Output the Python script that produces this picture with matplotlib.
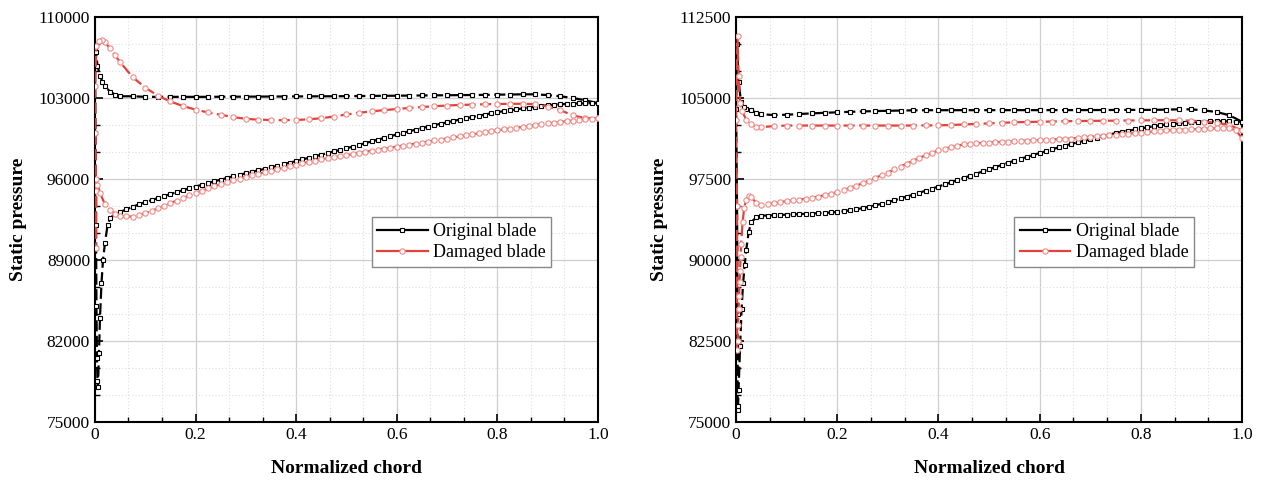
import numpy as np
import matplotlib
matplotlib.use('Agg')
import matplotlib.pyplot as plt
from matplotlib.ticker import FixedLocator, FuncFormatter
from matplotlib.lines import Line2D

plt.rcParams['font.family'] = ['Liberation Serif', 'DejaVu Serif']

# chord stations (x/c) of the upper branches
up_x = [0.075, 0.1, 0.125, 0.15, 0.175, 0.2, 0.225, 0.25, 0.275, 0.3, 0.325, 0.35,
        0.375, 0.4, 0.425, 0.45, 0.475, 0.5, 0.525, 0.55, 0.575, 0.6, 0.625, 0.65,
        0.675, 0.7, 0.725, 0.75, 0.775, 0.8, 0.825, 0.85, 0.875, 0.9, 0.925, 0.95,
        0.975, 1.0]
# lower branches are sampled twice as densely
lo_x = [0.0625, 0.075, 0.0875, 0.1, 0.1125, 0.125, 0.1375, 0.15, 0.1625, 0.175, 0.1875, 0.2,
        0.2125, 0.225, 0.2375, 0.25, 0.2625, 0.275, 0.2875, 0.3, 0.3125, 0.325, 0.3375, 0.35,
        0.3625, 0.375, 0.3875, 0.4, 0.4125, 0.425, 0.4375, 0.45, 0.4625, 0.475, 0.4875, 0.5,
        0.5125, 0.525, 0.5375, 0.55, 0.5625, 0.575, 0.5875, 0.6, 0.6125, 0.625, 0.6375, 0.65,
        0.6625, 0.675, 0.6875, 0.7, 0.7125, 0.725, 0.7375, 0.75, 0.7625, 0.775, 0.7875, 0.8,
        0.8125, 0.825, 0.8375, 0.85, 0.8625, 0.875, 0.8875, 0.9, 0.9125, 0.925, 0.9375, 0.95,
        0.9625, 0.975, 0.9875, 1.0]

# ---------------- left case ----------------
l_orig_up_le_x = [0.0, 0.002, 0.005, 0.01, 0.015, 0.02, 0.03, 0.04, 0.05]
l_orig_up_le_y = [107300, 107000, 105800, 104900, 104400, 104000, 103550, 103300, 103150]
l_orig_up_y = [103150, 103100, 103100, 103100, 103100, 103100, 103100, 103110, 103110,
               103120, 103120, 103130, 103130, 103140, 103140, 103150, 103150, 103160,
               103170, 103180, 103190, 103200, 103210, 103220, 103230, 103240, 103250,
               103260, 103270, 103290, 103300, 103320, 103320, 103250, 103150, 103000,
               102800, 102550]
l_orig_lo_le_x = [0.001, 0.002, 0.003, 0.004, 0.005, 0.006, 0.008, 0.01, 0.013, 0.016,
                  0.02, 0.025, 0.03, 0.04, 0.05]
l_orig_lo_le_y = [100000, 92000, 85000, 80500, 78500, 78000, 81000, 84000, 87000, 89000,
                  90500, 92000, 92600, 93000, 93150]
l_orig_lo_y = [93380, 93600, 93800, 94000, 94180, 94350, 94530, 94700, 94860, 95030, 95190, 95350,
               95500, 95650, 95800, 95950, 96090, 96230, 96360, 96500, 96620, 96750, 96870, 97000,
               97140, 97280, 97410, 97550, 97690, 97830, 97960, 98100, 98240, 98380, 98510, 98650,
               98800, 98950, 99100, 99250, 99400, 99550, 99700, 99850, 99990, 100130, 100260, 100400,
               100530, 100650, 100780, 100900, 101010, 101130, 101240, 101350, 101460, 101570, 101680, 101780,
               101860, 101940, 102020, 102100, 102170, 102240, 102310, 102380, 102420, 102450, 102490, 102520,
               102530, 102540, 102545, 102550]

l_dam_up_le_x = [0.0, 0.003, 0.008, 0.015, 0.02, 0.03, 0.04, 0.05]
l_dam_up_le_y = [104000, 107500, 107900, 108000, 107800, 107300, 106700, 106100]
l_dam_up_y = [104800, 103900, 103200, 102700, 102300, 102000, 101750, 101550, 101350,
              101200, 101130, 101100, 101080, 101100, 101160, 101250, 101400, 101580,
              101720, 101850, 101950, 102050, 102140, 102220, 102290, 102350, 102400,
              102430, 102460, 102480, 102500, 102500, 102470, 102250, 101950, 101500,
              101250, 101250]
l_dam_lo_le_x = [0.001, 0.002, 0.002, 0.003, 0.005, 0.01, 0.02, 0.03, 0.04, 0.05]
l_dam_lo_le_y = [100000, 95000, 90000, 96000, 95500, 94800, 93800, 93300, 93000, 92800]
l_dam_lo_y = [92760, 92750, 92880, 93050, 93250, 93460, 93680, 93900, 94130, 94360, 94580, 94800,
              94990, 95180, 95370, 95550, 95720, 95880, 96040, 96200, 96330, 96450, 96580, 96700,
              96840, 96980, 97110, 97250, 97360, 97480, 97590, 97700, 97790, 97880, 97960, 98050,
              98150, 98250, 98350, 98450, 98540, 98630, 98710, 98800, 98890, 98980, 99060, 99150,
              99240, 99330, 99410, 99500, 99590, 99680, 99760, 99850, 99940, 100030, 100110, 100200,
              100280, 100350, 100430, 100500, 100580, 100650, 100730, 100800, 100860, 100930, 100990, 101050,
              101100, 101150, 101200, 101250]

# ---------------- right case ----------------
r_orig_up_le_x = [0.0, 0.002, 0.005, 0.01, 0.015, 0.02, 0.03, 0.04, 0.05]
r_orig_up_le_y = [104000, 110000, 106500, 104600, 104200, 104000, 103850, 103650, 103500]
r_orig_up_y = [103420, 103450, 103520, 103580, 103630, 103680, 103720, 103760, 103790,
               103820, 103840, 103860, 103870, 103880, 103880, 103880, 103880, 103880,
               103880, 103880, 103880, 103880, 103880, 103880, 103880, 103880, 103890,
               103890, 103900, 103900, 103900, 103920, 103950, 103950, 103850, 103700,
               103400, 102800]
r_orig_lo_le_x = [0.002, 0.003, 0.003, 0.004, 0.005, 0.008, 0.011, 0.014, 0.017, 0.02,
                  0.025, 0.03, 0.04, 0.05]
r_orig_lo_le_y = [95000, 85000, 76100, 76500, 78000, 82000, 85500, 87900, 89500, 90900,
                  92600, 93500, 93950, 94100]
r_orig_lo_y = [94120, 94150, 94170, 94200, 94220, 94250, 94270, 94300, 94330, 94360, 94400, 94450,
               94520, 94600, 94700, 94800, 94930, 95060, 95200, 95350, 95520, 95700, 95870, 96050,
               96240, 96420, 96610, 96800, 97000, 97200, 97400, 97600, 97800, 98000, 98200, 98400,
               98600, 98800, 99000, 99200, 99380, 99550, 99730, 99900, 100080, 100250, 100430, 100600,
               100750, 100900, 101050, 101200, 101340, 101480, 101610, 101750, 101860, 101980, 102090, 102200,
               102290, 102380, 102460, 102550, 102600, 102650, 102700, 102750, 102780, 102800, 102830, 102850,
               102850, 102840, 102820, 102800]

r_dam_up_le_x = [0.0, 0.003, 0.005, 0.008, 0.012, 0.02, 0.03, 0.04, 0.05]
r_dam_up_le_y = [103000, 110700, 107000, 104500, 103800, 103000, 102550, 102350, 102300]
r_dam_up_y = [102400, 102450, 102450, 102450, 102450, 102450, 102450, 102450, 102450,
              102450, 102450, 102450, 102460, 102470, 102500, 102550, 102600, 102650,
              102700, 102750, 102780, 102800, 102820, 102850, 102870, 102880, 102890,
              102900, 102910, 102920, 102940, 102950, 102930, 102900, 102820, 102700,
              102500, 102000]
r_dam_lo_le_x = [0.002, 0.002, 0.003, 0.004, 0.005, 0.006, 0.007, 0.008, 0.009, 0.01,
                 0.013, 0.016, 0.02, 0.025, 0.03, 0.04, 0.05]
r_dam_lo_le_y = [95000, 81700, 82500, 84000, 85500, 86700, 88000, 89000, 90300, 91500,
                 93500, 94800, 95600, 95900, 95800, 95300, 95100]
r_dam_lo_y = [95170, 95250, 95350, 95450, 95520, 95600, 95670, 95750, 95870, 96000, 96140, 96300,
              96490, 96680, 96890, 97100, 97350, 97600, 97850, 98100, 98380, 98650, 98930, 99200,
              99450, 99700, 99930, 100150, 100310, 100460, 100590, 100700, 100760, 100810, 100850, 100880,
              100910, 100940, 100970, 101000, 101020, 101050, 101070, 101100, 101120, 101150, 101170, 101200,
              101250, 101300, 101350, 101400, 101450, 101500, 101550, 101600, 101650, 101700, 101750, 101800,
              101850, 101900, 101950, 102000, 102030, 102050, 102080, 102100, 102130, 102150, 102180, 102200,
              102200, 102200, 102000, 101300]


def loop(up_le_x, up_le_y, up_y, lo_le_x, lo_le_y, lo_y):
    # trailing edge -> leading edge on the upper branch, then back on the lower one
    x = list(reversed(up_le_x + up_x)) + lo_le_x + lo_x
    y = list(reversed(up_le_y + up_y)) + lo_le_y + lo_y
    return x, y


black_style = dict(color='black', lw=1.6, ls=(0, (5, 2)), marker='s', ms=3.3,
                   mfc='white', mec='black', mew=0.8)
red_style = dict(color='#e5413b', lw=1.6, ls=(0, (5, 2)), marker='o', ms=3.8,
                 mfc='white', mec='#f08a86', mew=0.8)

fig = plt.figure(figsize=(12.61, 4.86), dpi=100)
ax1 = fig.add_axes([0.0753, 0.1317, 0.3989, 0.8333])
ax2 = fig.add_axes([0.5837, 0.1317, 0.4013, 0.8333])

panels = [
    (ax1, loop(l_orig_up_le_x, l_orig_up_le_y, l_orig_up_y, l_orig_lo_le_x, l_orig_lo_le_y, l_orig_lo_y),
     loop(l_dam_up_le_x, l_dam_up_le_y, l_dam_up_y, l_dam_lo_le_x, l_dam_lo_le_y, l_dam_lo_y),
     (75000, 110000), 7000),
    (ax2, loop(r_orig_up_le_x, r_orig_up_le_y, r_orig_up_y, r_orig_lo_le_x, r_orig_lo_le_y, r_orig_lo_y),
     loop(r_dam_up_le_x, r_dam_up_le_y, r_dam_up_y, r_dam_lo_le_x, r_dam_lo_le_y, r_dam_lo_y),
     (75000, 112500), 7500),
]

for ax, orig, dam, ylim, ystep in panels:
    ax.plot(orig[0], orig[1], **black_style, zorder=3)
    ax.plot(dam[0], dam[1], **red_style, zorder=4)
    ax.set_xlim(0, 1)
    ax.set_ylim(*ylim)
    ax.xaxis.set_major_locator(FixedLocator(np.linspace(0, 1, 6)))
    ax.xaxis.set_minor_locator(FixedLocator(np.linspace(0, 1, 16)))
    ax.yaxis.set_major_locator(FixedLocator(np.arange(ylim[0], ylim[1] + 1, ystep)))
    ax.yaxis.set_minor_locator(FixedLocator(np.arange(ylim[0], ylim[1] + 1, ystep / 3)))
    ax.xaxis.set_major_formatter(FuncFormatter(lambda v, p: '0' if abs(v) < 1e-9 else '%.1f' % v))
    ax.yaxis.set_major_formatter(FuncFormatter(lambda v, p: '%d' % round(v)))
    ax.grid(which='major', color='#cfcfcf', lw=0.9, ls='-')
    ax.grid(which='minor', color='#dedede', lw=0.8, ls=(0, (1, 2)))
    ax.set_axisbelow(True)
    ax.tick_params(which='both', direction='in', top=False, right=False, labelsize=12.5)
    ax.tick_params(which='major', length=6, width=1.2)
    ax.tick_params(which='minor', length=3.5, width=1.0)
    for s in ax.spines.values():
        s.set_linewidth(1.5)
    ax.set_xlabel('Normalized chord', fontsize=14, fontweight='bold', labelpad=12)
    ax.set_ylabel('Static pressure', fontsize=14, fontweight='bold', labelpad=8)
    handles = [Line2D([], [], color='black', lw=1.6, marker='s', ms=3.3, mfc='white',
                      mec='black', mew=0.8),
               Line2D([], [], color='#e5413b', lw=1.6, marker='o', ms=3.8, mfc='white',
                      mec='#f08a86', mew=0.8)]
    ax.legend(handles, ['Original blade', 'Damaged blade'], loc='upper left',
              bbox_to_anchor=(0.55, 0.505), fontsize=13, frameon=True, fancybox=False,
              edgecolor='#888888', framealpha=1, handlelength=2.8, handletextpad=0.3,
              borderpad=0.3, labelspacing=0.25, borderaxespad=0, numpoints=1)

fig.savefig('out.png', dpi=100)
